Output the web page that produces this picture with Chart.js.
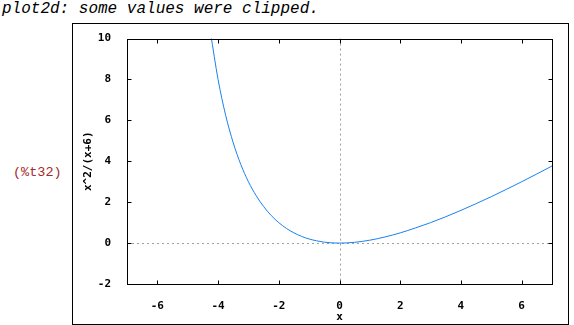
<!DOCTYPE html>
<html lang="en">
<head>
    <meta charset="UTF-8">
    <title>plot2d</title>
    <script src="https://cdn.jsdelivr.net/npm/chart.js"></script>
    <style>
        body { margin: 0; width: 574px; height: 325px; position: relative; background: #fff; overflow: hidden; }
        #msg { position: absolute; left: 2px; top: 1px; font: italic 16px "Liberation Mono", monospace; line-height: 16px; white-space: nowrap; }
        #lbl { position: absolute; left: 13px; top: 165px; font: 13.5px "Liberation Mono", monospace; color: #a52a2a; line-height: 16px; }
        #box { position: absolute; left: 72px; top: 23px; width: 495px; height: 300px; border: 1px solid #000; }
        #box canvas { display: block; }
    </style>
</head>
<body>
    <div id="msg">plot2d: some values were clipped.</div>
    <div id="lbl">(%t32)</div>
    <div id="box"><canvas id="plot" width="495" height="300"></canvas></div>

    <script>
        // values
        const xValues = [-4.25, -4, -3.75, -3.5, -3.25, -3, -2.75, -2.5, -2.25, -2, -1.75, -1.5, -1.25, -1, -0.75, -0.5, -0.25, 0,
                         0.5, 1, 1.5, 2, 2.5, 3, 3.5, 4, 4.5, 5, 5.5, 6, 6.5, 7];
        const yValues = [10.3, 8, 6.25, 4.9, 3.84, 3, 2.33, 1.79, 1.35, 1, 0.72, 0.5, 0.33, 0.2, 0.11, 0.045, 0.011, 0,
                         0.038, 0.143, 0.3, 0.5, 0.74, 1, 1.29, 1.6, 1.93, 2.27, 2.63, 3, 3.38, 3.77];
        const xTicks = [-6, -4, -2, 0, 2, 4, 6];
        const yTicks = [-2, 0, 2, 4, 6, 8, 10];

        const points = xValues.map((x, i) => ({ x: x, y: yValues[i] }));
        const tickFont = { family: "DejaVu Sans Mono", size: 11, weight: "bold" };

        // gnuplot style frame: inward ticks on all sides, dotted zero axes
        const framePlugin = {
            id: "frame",
            beforeDatasetsDraw(chart) {
                const c = chart.ctx, a = chart.chartArea;
                const xs = chart.scales.x, ys = chart.scales.y;
                c.save();
                c.strokeStyle = "#a0a0a0";
                c.lineWidth = 1;
                c.setLineDash([2, 3]);
                const x0 = Math.round(xs.getPixelForValue(0)) + 0.5;
                const y0 = Math.round(ys.getPixelForValue(0)) + 0.5;
                c.beginPath();
                c.moveTo(x0, a.top); c.lineTo(x0, a.bottom);
                c.moveTo(a.left, y0); c.lineTo(a.right, y0);
                c.stroke();
                c.restore();
            },
            afterDatasetsDraw(chart) {
                const c = chart.ctx, a = chart.chartArea;
                const xs = chart.scales.x, ys = chart.scales.y;
                const L = Math.round(a.left) + 0.5, R = Math.round(a.right) + 0.5;
                const T = Math.round(a.top) + 0.5, B = Math.round(a.bottom) + 0.5;
                c.save();
                c.strokeStyle = "#000";
                c.lineWidth = 1;
                c.strokeRect(L, T, R - L, B - T);
                c.beginPath();
                xTicks.forEach(v => {
                    const p = Math.round(xs.getPixelForValue(v)) + 0.5;
                    c.moveTo(p, B); c.lineTo(p, B - 4);
                    c.moveTo(p, T); c.lineTo(p, T + 4);
                });
                yTicks.forEach(v => {
                    const p = Math.round(ys.getPixelForValue(v)) + 0.5;
                    c.moveTo(L, p); c.lineTo(L + 4, p);
                    c.moveTo(R, p); c.lineTo(R - 4, p);
                });
                c.stroke();
                c.restore();
            }
        };

        new Chart(document.getElementById("plot"), {
            type: "scatter",
            data: {
                datasets: [{
                    data: points,
                    showLine: true,
                    borderColor: "#1a80f0",
                    borderWidth: 1,
                    pointRadius: 0,
                    cubicInterpolationMode: "monotone"
                }]
            },
            options: {
                responsive: false,
                animation: false,
                layout: { padding: { top: 13, right: 16, left: 0, bottom: 0 } },
                plugins: { legend: { display: false }, tooltip: { enabled: false } },
                scales: {
                    x: {
                        type: "linear",
                        min: -7,
                        max: 7,
                        afterBuildTicks: s => { s.ticks = xTicks.map(v => ({ value: v })); },
                        afterFit: s => { s.height = 40; },
                        grid: { display: false },
                        border: { display: false },
                        ticks: { color: "#000", font: tickFont, padding: 8, maxRotation: 0 },
                        title: { display: true, text: "x", color: "#000", font: tickFont, padding: { top: 0, bottom: 0 } }
                    },
                    y: {
                        min: -2,
                        max: 10,
                        afterBuildTicks: s => { s.ticks = yTicks.map(v => ({ value: v })); },
                        afterFit: s => { s.width = 54; },
                        grid: { display: false },
                        border: { display: false },
                        ticks: { color: "#000", font: tickFont, padding: 8 },
                        title: { display: true, text: "x^2/(x+6)", color: "#000", font: tickFont, padding: { top: 9, bottom: 0 } }
                    }
                }
            },
            plugins: [framePlugin]
        });
    </script>
</body>
</html>
